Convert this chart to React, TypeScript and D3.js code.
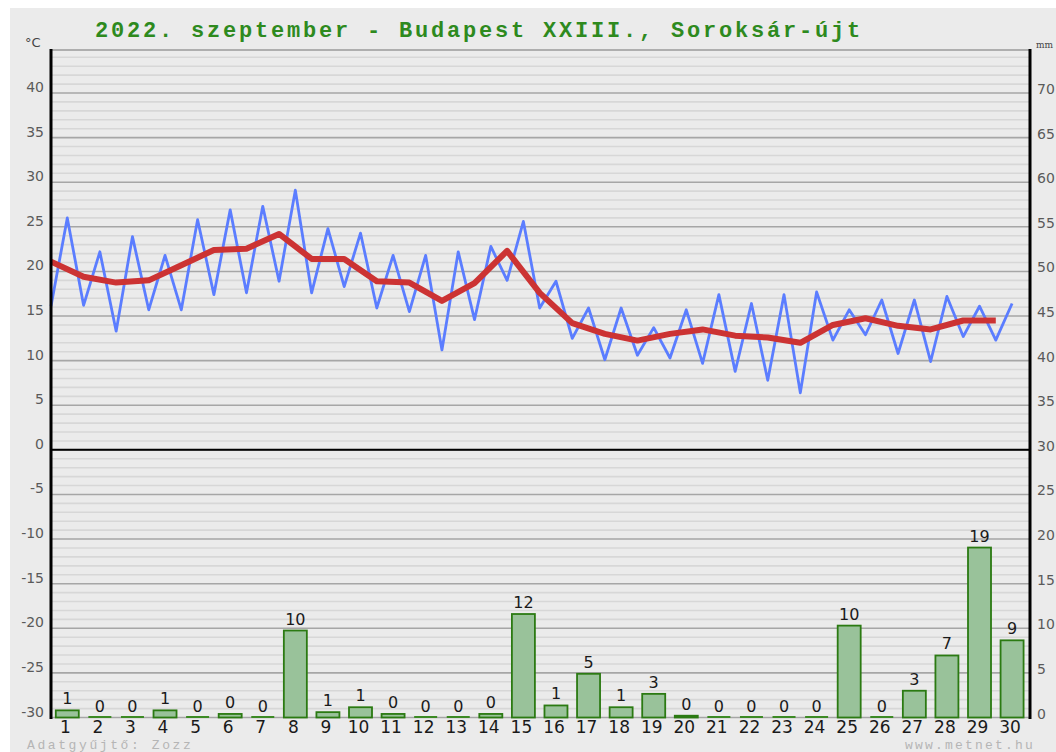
import React from "react";
import * as d3 from "d3";

// napi adatok, 2022. szeptember
const days = d3.range(1, 31);
const tMin = [16.1, 16.2, 13.3, 15.7, 15.7, 17.4, 17.6, 18.9, 17.6, 18.3, 15.9, 15.5, 11.2, 14.6, 19.0,
  15.9, 12.5, 10.1, 10.6, 10.3, 9.7, 8.8, 7.8, 6.4, 12.3, 12.9, 10.8, 9.9, 12.7, 12.3];
const tMax = [26.0, 22.2, 23.9, 21.8, 25.8, 26.9, 27.3, 29.1, 24.8, 24.3, 21.8, 21.8, 22.2, 22.8, 25.6,
  18.9, 15.9, 15.9, 13.7, 15.7, 17.4, 16.4, 17.4, 17.7, 15.7, 16.8, 16.8, 17.2, 16.1, 16.4];
const tMean = [21.1, 19.4, 18.75, 19.0, 20.7, 22.4, 22.55, 24.2, 21.4, 21.4, 18.9, 18.75, 16.7, 18.7, 22.3,
  17.6, 14.2, 13.0, 12.25, 13.0, 13.5, 12.8, 12.6, 12.0, 14.0, 14.75, 13.9, 13.5, 14.5, 14.5];
const precip = [0.8, 0, 0, 0.8, 0, 0.4, 0, 9.75, 0.6, 1.15, 0.4, 0, 0, 0.4, 11.6,
  1.35, 4.9, 1.15, 2.65, 0.2, 0, 0, 0, 0, 10.3, 0, 3.0, 6.95, 19.05, 8.65];
const tempTicks = d3.range(40, -31, -5);
const mmTicks = d3.range(70, -1, -5);

const W = 1056;
const H = 752;
const left = 51;
const right = 1030;
const top = 50;

const x = d3.scaleLinear().domain([0.5, 30.55]).range([left, right]);
const yT = d3.scaleLinear().domain([-30, 40]).range([717.5, 93]);
const yMm = d3.scaleLinear().domain([0, 70]).range([717.5, 93]);
const tTop = yT.invert(top);

const App = () => {
  const gridVals = d3.range(-30, Math.floor(tTop) + 1);

  // min a fél napnál, max a napnál
  const bluePts: [number, number][] = [];
  days.forEach((d, i) => {
    bluePts.push([x(d - 0.5), yT(tMin[i])]);
    bluePts.push([x(d), yT(tMax[i])]);
  });
  const redPts: [number, number][] = days.map((d, i) => [x(d - 0.5), yT(tMean[i])]);
  const line = d3.line();

  const barW = 23;
  const tickFont = "'DejaVu Sans', Verdana, sans-serif";

  return (
    <svg width={W} height={H} style={{ position: "absolute", left: 0, top: 0, display: "block" }}>
      <rect x={10} y={8} width={W - 10} height={H - 8} fill="#ebebeb" />

      {/* rács */}
      {gridVals.map((t) => (
        <line key={t} x1={left} x2={right} y1={yT(t)} y2={yT(t)}
          stroke={t % 5 === 0 ? "#a6a6a6" : "#d7d7d7"} strokeWidth={1.6} />
      ))}
      <line x1={left} x2={right} y1={top} y2={top} stroke="#9a9a9a" strokeWidth={1.6} />
      <line x1={left} x2={right} y1={yT(0)} y2={yT(0)} stroke="#000" strokeWidth={2} />

      {/* csapadék */}
      {days.map((d, i) => {
        const v = precip[i];
        const cx = x(d);
        const y0 = yMm(0);
        const y1 = yMm(v);
        return (
          <g key={d}>
            {v > 0 ? (
              <rect x={cx - barW / 2} y={y1} width={barW} height={y0 - y1}
                fill="#99c29a" stroke="#2b7a12" strokeWidth={1.8} />
            ) : (
              <line x1={cx - barW / 2} x2={cx + barW / 2} y1={y0 - 0.5} y2={y0 - 0.5}
                stroke="#3c8a24" strokeWidth={2} />
            )}
            <text x={cx} y={y1 - 6} textAnchor="middle" fontFamily={tickFont} fontSize={16} fill="#1a1a1a">
              {Math.round(v)}
            </text>
            <text x={cx - 2} y={733} textAnchor="middle" fontFamily={tickFont} fontSize={17} fill="#1a1a1a">
              {d}
            </text>
          </g>
        );
      })}

      {/* hőmérséklet */}
      <path d={line(bluePts) || ""} fill="none" stroke="#5b7dff" strokeWidth={2.8} strokeLinejoin="round" />
      <path d={line(redPts) || ""} fill="none" stroke="#cc3333" strokeWidth={6} strokeLinejoin="round" />

      {/* tengelyek */}
      <line x1={left} x2={left} y1={top - 1} y2={719} stroke="#000" strokeWidth={3} />
      <line x1={right} x2={right} y1={top - 1} y2={719} stroke="#000" strokeWidth={3} />

      {tempTicks.map((t) => (
        <text key={t} x={44} y={yT(t) - 1} textAnchor="end" fontFamily={tickFont} fontSize={14} fill="#5a5a5a">
          {t}
        </text>
      ))}
      {mmTicks.map((m) => (
        <text key={m} x={1037} y={yMm(m) + 1} textAnchor="start" fontFamily={tickFont} fontSize={14} fill="#5a5a5a">
          {m}
        </text>
      ))}
      <text x={25} y={47} fontFamily={tickFont} fontSize={13} fill="#444">°C</text>
      <text x={1036} y={48} fontFamily="'DejaVu Serif', serif" fontSize={9} fill="#444">mm</text>

      <text x={95} y={37} fontFamily="'Liberation Mono', 'Courier New', monospace" fontWeight="bold"
        fontSize={22} letterSpacing={2.8} fill="#2e8a1e">
        2022. szeptember - Budapest XXIII., Soroksár-újt
      </text>

      <text x={27} y={748.5} fontFamily="'Liberation Mono', monospace" fontSize={13} letterSpacing={2.6} fill="#b5b5b5">
        Adatgyűjtő: Zozz
      </text>
      <text x={1035} y={748.5} textAnchor="end" fontFamily="'Liberation Mono', monospace" fontSize={13}
        letterSpacing={2.2} fill="#b5b5b5">
        www.metnet.hu
      </text>
    </svg>
  );
};

export default App;
